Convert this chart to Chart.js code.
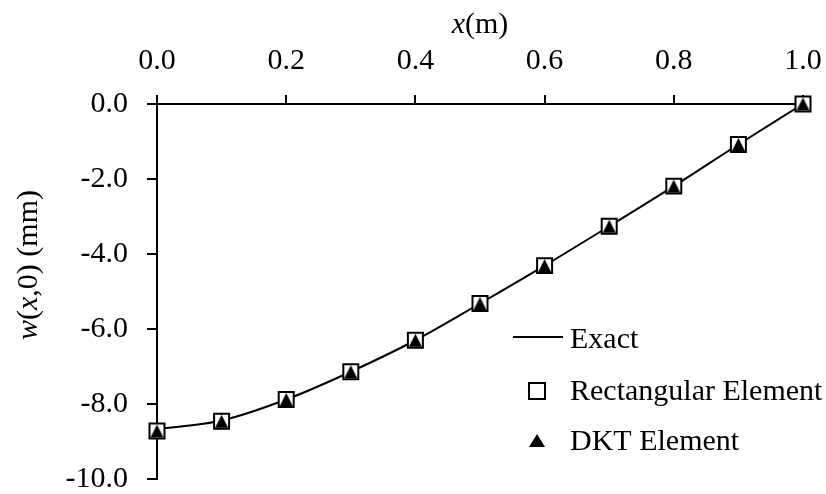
<!DOCTYPE html>
<html>
<head>
<meta charset="utf-8">
<script src="https://cdn.jsdelivr.net/npm/chart.js@4/dist/chart.umd.min.js"></script>
<style>
html,body{margin:0;padding:0;background:#fff;}
#wrap{width:826px;height:494px;position:relative;}
</style>
</head>
<body>
<div id="wrap"><canvas id="c" width="826" height="494"></canvas></div>
<script>
// ---- data ----
const xValues = [0.0, 0.1, 0.2, 0.3, 0.4, 0.5, 0.6, 0.7, 0.8, 0.9, 1.0];
const exactW  = [-8.67, -8.44, -7.88, -7.14, -6.30, -5.32, -4.31, -3.26, -2.19, -1.08, 0.0];
const rectW   = [-8.72, -8.46, -7.88, -7.14, -6.30, -5.32, -4.31, -3.26, -2.19, -1.08, 0.0];
const dktW    = [-8.72, -8.46, -7.88, -7.14, -6.30, -5.32, -4.31, -3.26, -2.19, -1.08, 0.0];
const xTickValues = [0.0, 0.2, 0.4, 0.6, 0.8, 1.0];
const yTickValues = [0.0, -2.0, -4.0, -6.0, -8.0, -10.0];
const seriesNames = ['Exact', 'Rectangular Element', 'DKT Element'];

const FONT = "'Liberation Serif', 'Times New Roman', serif";
const FS = 30;

function toPts(ys) { return xValues.map((x, i) => ({x: x, y: ys[i]})); }

// centered triangle marker image
function triCanvas(w, h) {
  const c = document.createElement('canvas');
  c.width = w + 2; c.height = h + 2;
  const g = c.getContext('2d');
  g.fillStyle = '#000';
  g.beginPath();
  g.moveTo(c.width / 2, 1);
  g.lineTo(c.width - 1, h + 1);
  g.lineTo(1, h + 1);
  g.closePath();
  g.fill();
  return c;
}
const triImg = triCanvas(13, 13);

function drawMixed(ctx, parts, cx, y) {
  let total = 0;
  const ws = parts.map(p => {
    ctx.font = (p[1] ? 'italic ' : '') + FS + 'px ' + FONT;
    const w = ctx.measureText(p[0]).width;
    total += w;
    return w;
  });
  let x = cx - total / 2;
  parts.forEach((p, i) => {
    ctx.font = (p[1] ? 'italic ' : '') + FS + 'px ' + FONT;
    ctx.fillText(p[0], x, y);
    x += ws[i];
  });
}

const decor = {
  id: 'decor',
  afterDraw(chart) {
    const ctx = chart.ctx;
    ctx.save();
    ctx.fillStyle = '#000';
    ctx.strokeStyle = '#000';
    ctx.textAlign = 'left';
    ctx.textBaseline = 'alphabetic';
    // x axis title
    const a = chart.chartArea;
    drawMixed(ctx, [['x', true], ['(m)', false]], (a.left + a.right) / 2, 33);
    // y axis title
    ctx.save();
    ctx.translate(37, 265);
    ctx.rotate(-Math.PI / 2);
    drawMixed(ctx, [['w', true], ['(', false], ['x', true], [',0) (mm)', false]], 0, 0);
    ctx.restore();
    // legend
    ctx.font = FS + 'px ' + FONT;
    ctx.textBaseline = 'middle';
    const lx = 570;
    ctx.lineWidth = 2;
    ctx.beginPath();
    ctx.moveTo(513, 337); ctx.lineTo(563, 337);
    ctx.stroke();
    ctx.fillText(seriesNames[0], lx, 340);
    ctx.fillStyle = '#fff';
    ctx.fillRect(529, 383, 16, 16);
    ctx.strokeRect(529, 383, 16, 16);
    ctx.fillStyle = '#000';
    ctx.fillText(seriesNames[1], lx, 392);
    ctx.beginPath();
    ctx.moveTo(537, 434); ctx.lineTo(545, 447); ctx.lineTo(529, 447); ctx.closePath();
    ctx.fill();
    ctx.fillText(seriesNames[2], lx, 442);
    ctx.restore();
  }
};

new Chart(document.getElementById('c'), {
  type: 'scatter',
  data: {
    datasets: [
      {
        label: seriesNames[2], data: toPts(dktW), order: 1,
        pointStyle: triImg, pointRadius: 7, showLine: false, clip: false
      },
      {
        label: seriesNames[1], data: toPts(rectW), order: 2,
        pointStyle: 'rect', pointRadius: 10.6, pointBorderWidth: 2,
        pointBackgroundColor: '#fff', pointBorderColor: '#000', showLine: false, clip: false
      },
      {
        label: seriesNames[0], data: toPts(exactW), order: 3,
        showLine: true, borderColor: '#000', borderWidth: 2, pointRadius: 0,
        cubicInterpolationMode: 'monotone', clip: false
      }
    ]
  },
  options: {
    responsive: false,
    animation: false,
    devicePixelRatio: 1,
    layout: { padding: { left: 0, top: 0, right: 23, bottom: 15 } },
    plugins: { legend: { display: false }, tooltip: { enabled: false } },
    scales: {
      x: {
        type: 'linear', position: 'top', min: 0, max: 1,
        afterBuildTicks: s => { s.ticks = xTickValues.map(v => ({value: v})); },
        afterFit: s => { s.height = 104; s.paddingLeft = 0; s.paddingRight = 0; },
        ticks: { callback: v => Number(v).toFixed(1), font: {family: FONT, size: FS}, color: '#000', padding: 16, maxRotation: 0 },
        grid: { drawOnChartArea: false, drawTicks: true, tickLength: 9, color: '#000', lineWidth: 2 },
        border: { display: true, color: '#000', width: 2 }
      },
      y: {
        type: 'linear', position: 'left', min: -10, max: 0,
        afterBuildTicks: s => { s.ticks = yTickValues.map(v => ({value: v})); },
        afterFit: s => { s.width = 157; s.paddingTop = 0; s.paddingBottom = 0; },
        ticks: { callback: v => Number(v).toFixed(1), font: {family: FONT, size: FS}, color: '#000', padding: 19 },
        grid: { drawOnChartArea: false, drawTicks: true, tickLength: 10, color: '#000', lineWidth: 2 },
        border: { display: true, color: '#000', width: 2 }
      }
    }
  },
  plugins: [decor]
});
</script>
</body>
</html>
